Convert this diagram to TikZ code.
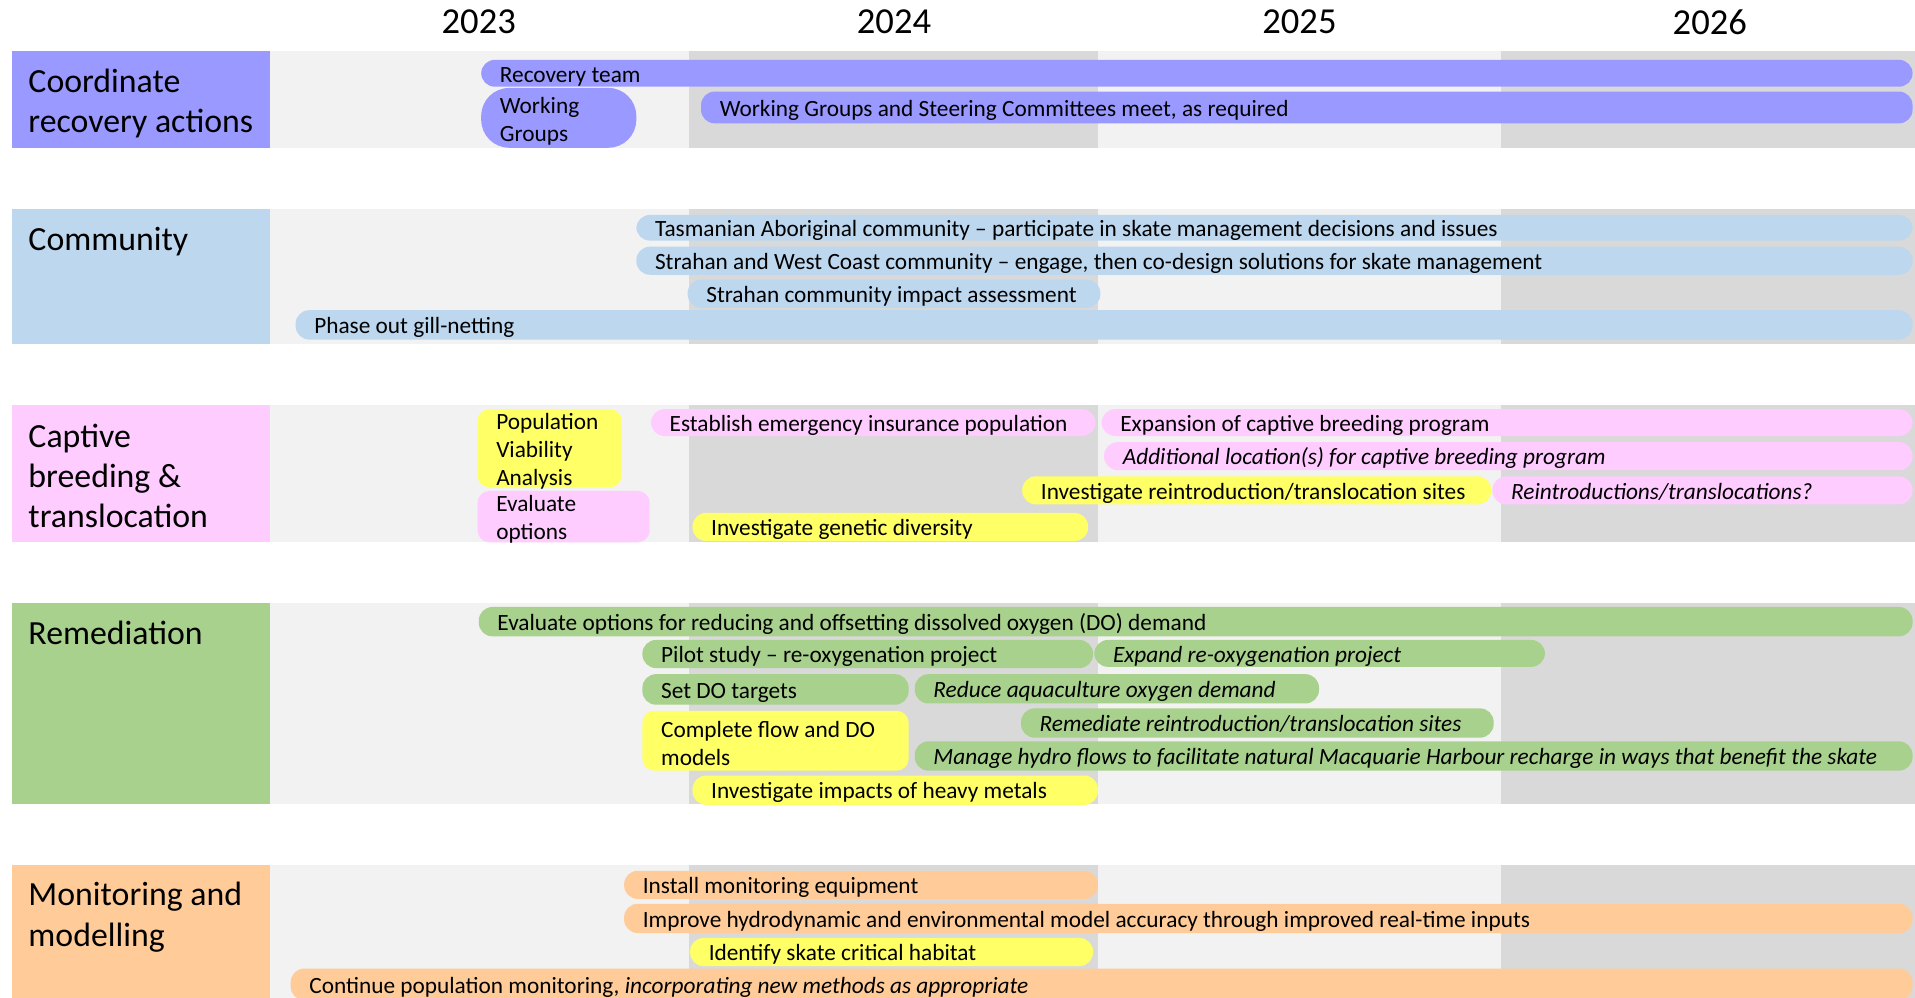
\documentclass[tikz,border=0pt]{standalone}
\usepackage{fontspec}
\setmainfont{Carlito}
\definecolor{coordc}{HTML}{9999FF}
\definecolor{commc}{HTML}{BDD7EE}
\definecolor{captc}{HTML}{FFCCFF}
\definecolor{remc}{HTML}{A9D18E}
\definecolor{monc}{HTML}{FFCC99}
\definecolor{yel}{HTML}{FFFF66}
\definecolor{bgl}{HTML}{F2F2F2}
\definecolor{bgd}{HTML}{D9D9D9}
\def\tlunit{0.61066}
\tikzset{
  bartext/.style={anchor=west, inner sep=0pt, yshift=-0.9pt, font=\fontsize{11.65}{14}\selectfont, text height=7.6pt, text depth=0.6pt},
  boxtext/.style={anchor=west, inner sep=0pt, yshift=-1.5pt, align=left, font=\fontsize{11.65}{14}\selectfont},
  cattext/.style={anchor=west, inner sep=0pt, align=left, font=\fontsize{16.9}{20.1}\selectfont},
  yeartext/.style={inner sep=0pt, font=\fontsize{18.3}{22}\selectfont},
  barshape/.style={inner sep=0pt, anchor=north west, draw=none, outer sep=0pt},
}
\newcommand{\tlbar}[8][6.8pt]{%
  \pgfmathsetmacro\tlbw{(#6-#4)*\tlunit}%
  \pgfmathsetmacro\tlbh{(#7-#5)*\tlunit}%
  \pgfmathsetmacro\tlpad{15*\tlunit}%
  \node[barshape, fill=#3, rounded corners=#1, minimum width=\tlbw pt, minimum height=\tlbh pt] (#2) at (#4,#5) {};%
  \node[bartext] (#2-t) at ([xshift=\tlpad pt]#2.west) {#8};%
}
\newcommand{\tlbox}[8][6pt]{%
  \pgfmathsetmacro\tlbw{(#6-#4)*\tlunit}%
  \pgfmathsetmacro\tlbh{(#7-#5)*\tlunit}%
  \pgfmathsetmacro\tlpad{15*\tlunit}%
  \node[barshape, fill=#3, rounded corners=#1, minimum width=\tlbw pt, minimum height=\tlbh pt] (#2) at (#4,#5) {};%
  \node[boxtext] (#2-t) at ([xshift=\tlpad pt]#2.west) {#8};%
}
\newcommand{\tlband}[2]{%
  \fill[bgl] (221,#1) rectangle (564,#2);
  \fill[bgd] (564,#1) rectangle (899,#2);
  \fill[bgl] (899,#1) rectangle (1229,#2);
  \fill[bgd] (1229,#1) rectangle (1568,#2);
}
\begin{document}
\begin{tikzpicture}[x=0.61066pt, y=-0.61066pt]
\useasboundingbox[fill=white] (0,0) rectangle (1568,817);
% years
\node[yeartext] (y23) at (392,18) {2023};
\node[yeartext] (y24) at (732,18) {2024};
\node[yeartext] (y25) at (1064,18) {2025};
\node[yeartext] (y26) at (1400,18) {2026};
% bands
\tlband{42}{121}
\tlband{171}{282}
\tlband{332}{444}
\tlband{494}{658}
\tlband{708}{817}
% categories
\fill[coordc] (10,42) rectangle (221,121);
\node[cattext] (cat1) at (23,84.5) {Coordinate\\recovery actions};
\fill[commc] (10,171) rectangle (221,282);
\node[cattext] (cat2) at (23,198) {Community};
\fill[captc] (10,332) rectangle (221,444);
\node[cattext] (cat3) at (23,389.5) {Captive\\breeding \&\\translocation};
\fill[remc] (10,494) rectangle (221,658);
\node[cattext] (cat4) at (23,518.5) {Remediation};
\fill[monc] (10,708) rectangle (221,817);
\node[cattext] (cat5) at (23,751) {Monitoring and\\modelling};
% row 1
\tlbar{rt}{coordc}{394}{49}{1566}{71}{Recovery team}
\tlbox[14pt]{wg}{coordc}{394}{72}{521}{121}{Working\\Groups}
\tlbar{wgsc}{coordc}{574}{75}{1566}{101}{Working Groups and Steering Committees meet, as required}
% row 2
\tlbar{tac}{commc}{521}{176}{1566}{197}{Tasmanian Aboriginal community -- participate in skate management decisions and issues}
\tlbar{swc}{commc}{521}{202}{1566}{225}{Strahan and West Coast community -- engage, then co-design solutions for skate management}
\tlbar{scia}{commc}{563}{229}{901}{252}{Strahan community impact assessment}
\tlbar{gill}{commc}{242}{254}{1566}{278}{Phase out gill-netting}
% row 3
\tlbox{pva}{yel}{391}{335}{509}{399}{Population\\Viability\\Analysis}
\tlbox{evo}{captc}{391}{402}{532}{444}{Evaluate\\options}
\tlbar{eeip}{captc}{533}{335}{897}{357}{Establish emergency insurance population}
\tlbar{ecbp}{captc}{902}{335}{1566}{357}{Expansion of captive breeding program}
\tlbar{addl}{captc}{904}{362}{1566}{385}{\itshape Additional location(s) for captive breeding program}
\tlbar{irts}{yel}{837}{390}{1221}{413}{Investigate reintroduction/translocation sites}
\tlbar{reint}{captc}{1222}{390}{1566}{413}{\itshape Reintroductions/translocations?}
\tlbar{igd}{yel}{567}{420}{891}{443}{Investigate genetic diversity}
% row 4
\tlbar{eval}{remc}{392}{497}{1566}{521}{Evaluate options for reducing and offsetting dissolved oxygen (DO) demand}
\tlbar{pilot}{remc}{526}{524}{895}{547}{Pilot study -- re-oxygenation project}
\tlbar{expand}{remc}{896}{524}{1265}{546}{\itshape Expand re-oxygenation project}
\tlbar{setdo}{remc}{526}{552}{744}{577}{Set DO targets}
\tlbar{reduce}{remc}{749}{552}{1080}{576}{\itshape Reduce aquaculture oxygen demand}
\tlbox{cfdo}{yel}{526}{582}{744}{631}{Complete flow and DO\\models}
\tlbar{remed}{remc}{836}{580}{1223}{604}{\itshape Remediate reintroduction/translocation sites}
\tlbar{hydro}{remc}{749}{607}{1566}{631}{\itshape Manage hydro flows to facilitate natural Macquarie Harbour recharge in ways that benefit the skate}
\tlbar{heavy}{yel}{567}{635}{899}{659}{Investigate impacts of heavy metals}
% row 5
\tlbar{inst}{monc}{511}{713}{899}{736}{Install monitoring equipment}
\tlbar{improve}{monc}{511}{740}{1566}{764}{Improve hydrodynamic and environmental model accuracy through improved real-time inputs}
\tlbar{crit}{yel}{565}{768}{895}{791}{Identify skate critical habitat}
\tlbar{cont}{monc}{238}{793}{1566}{819}{Continue population monitoring, \textit{incorporating new methods as appropriate}}
\end{tikzpicture}
\end{document}
